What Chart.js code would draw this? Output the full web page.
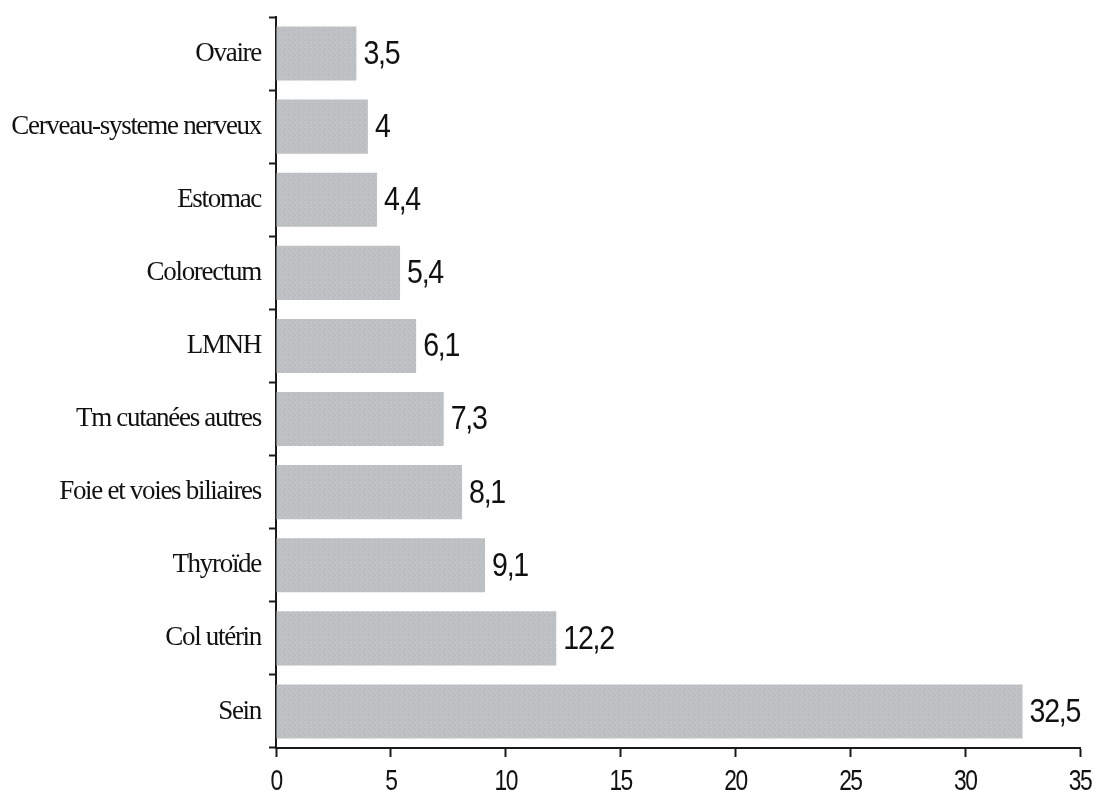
<!DOCTYPE html>
<html>
<head>
<meta charset="utf-8">
<script src="https://cdn.jsdelivr.net/npm/chart.js@4"></script>
<style>
  html, body { margin: 0; padding: 0; background: #fff; }
  #wrap { width: 1098px; height: 799px; }
</style>
</head>
<body>
<div id="wrap"><canvas id="myChart" width="1098" height="799"></canvas></div>
<script>
'use strict';
// Chart data
const sites = ['Ovaire', 'Cerveau-systeme nerveux', 'Estomac', 'Colorectum', 'LMNH',
  'Tm cutanées autres', 'Foie et voies biliaires', 'Thyroïde', 'Col utérin', 'Sein'];
const percents = [3.5, 4, 4.4, 5.4, 6.1, 7.3, 8.1, 9.1, 12.2, 32.5];
const xMin = 0;
const xMax = 35;
const xStep = 5;

const SANS = '"Liberation Sans", Arial, sans-serif';
const SERIF = '"Liberation Serif", "Times New Roman", serif';

const ctx_chart = document.getElementById('myChart').getContext('2d');

// grey grain used to fill the bars (fixed 5x5 tile)
function greyGrain(){
  const tile = [
    '#b6b9bc', '#c4c6c8', '#babdbf', '#c8cacb', '#b3b6b9',
    '#c6c8c9', '#b8bbbd', '#c3c5c7', '#b5b8ba', '#bfc2c4',
    '#bcbfc1', '#c9cbcc', '#b4b7ba', '#c1c3c5', '#c7c9ca',
    '#c2c4c6', '#b7babc', '#c5c7c8', '#bbbec0', '#b5b8bb',
    '#b9bcbe', '#c3c5c6', '#bec1c3', '#b6b9bb', '#c6c8ca'
  ];
  const c = document.createElement('canvas');
  c.width = 5; c.height = 5;
  const g = c.getContext('2d');
  tile.forEach((col, i) => {
    g.fillStyle = col;
    g.fillRect(i % 5, Math.floor(i / 5), 1, 1);
  });
  return ctx_chart.createPattern(c, 'repeat');
}

// condensed text: squeeze horizontally around the anchor point
function narrowText(c, text, x, y, squeeze){
  c.save();
  c.translate(x, y);
  c.scale(squeeze, 1);
  c.fillText(text, 0, 0);
  c.restore();
}

// value written just right of each bar, with a decimal comma
const valueLabels = {
  id: 'valueLabels',
  afterDatasetsDraw(chart){
    const c = chart.ctx;
    const meta = chart.getDatasetMeta(0);
    c.save();
    c.font = '34px ' + SANS;
    c.letterSpacing = '-1.5px';
    c.fillStyle = '#111';
    c.textAlign = 'left';
    c.textBaseline = 'middle';
    meta.data.forEach((bar, i) => {
      narrowText(c, String(percents[i]).replace('.', ','), bar.x + 7, bar.y + 1, 0.84);
    });
    c.restore();
  }
};

// x tick numbers, drawn under the scale's own tick positions
const xNumbers = {
  id: 'xNumbers',
  afterDraw(chart){
    const c = chart.ctx;
    const sx = chart.scales.x;
    c.save();
    c.font = '30px ' + SANS;
    c.letterSpacing = '-2px';
    c.fillStyle = '#111';
    c.textAlign = 'center';
    c.textBaseline = 'middle';
    sx.ticks.forEach(t => {
      narrowText(c, String(t.value), sx.getPixelForValue(t.value), 782, 0.76);
    });
    c.restore();
  }
};

// tight letter spacing for the category names
const tightText = {
  id: 'tightText',
  beforeDraw(chart){ chart.ctx.letterSpacing = '-1.3px'; },
  afterDatasetsDraw(chart){ chart.ctx.letterSpacing = '0px'; }
};

const chart = new Chart(ctx_chart, {
  type: 'bar',
  data: {
    labels: sites,
    datasets: [{
      data: percents,
      backgroundColor: greyGrain(),
      borderWidth: 0,
      barPercentage: 0.74,
      categoryPercentage: 1
    }]
  },
  options: {
    indexAxis: 'y',
    responsive: false,
    animation: false,
    events: [],
    layout: { padding: { top: 17, right: 18, left: 0, bottom: 0 } },
    plugins: { legend: { display: false }, tooltip: { enabled: false } },
    scales: {
      x: {
        min: xMin,
        max: xMax,
        ticks: { stepSize: xStep, display: false },
        grid: { drawOnChartArea: false, drawTicks: true, tickLength: 9, tickWidth: 2, color: '#1a1a1a' },
        border: { display: true, color: '#1a1a1a', width: 2 },
        afterFit(scale){ scale.height = 51; }
      },
      y: {
        ticks: {
          color: '#111',
          padding: 8,
          font: { family: SERIF, size: 27, lineHeight: 0.5 }
        },
        grid: { offset: true, drawOnChartArea: false, drawTicks: true, tickLength: 7, tickWidth: 2, color: '#1a1a1a' },
        border: { display: true, color: '#1a1a1a', width: 2 },
        afterFit(scale){ scale.width = 276; }
      }
    }
  },
  plugins: [tightText, valueLabels, xNumbers]
});
</script>
</body>
</html>
